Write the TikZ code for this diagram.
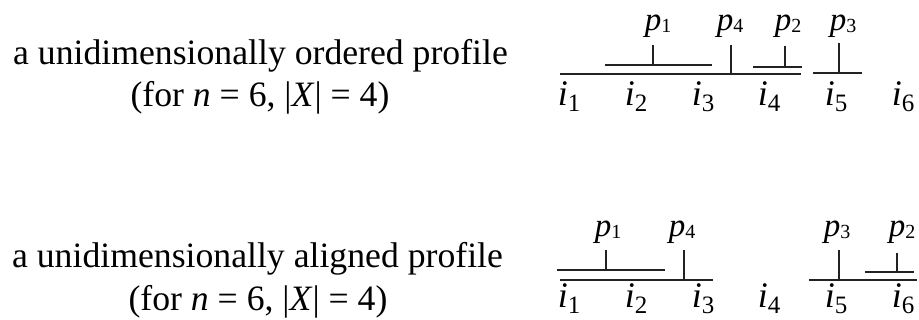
\documentclass[tikz,border=0pt]{standalone}
\usepackage{fontspec}
\setmainfont{Liberation Serif}
\usepackage{graphicx}
\usepackage{tikz}
\definecolor{PRLine}{HTML}{222222}
\newcommand{\plab}[1]{\textit{p}\raisebox{-2pt}{\fontsize{20}{23}\selectfont #1}}
\newcommand{\ilab}[1]{\textit{i}\raisebox{-6pt}{\fontsize{25}{28}\selectfont #1}}

\begin{document}
\begin{tikzpicture}[x=1pt,y=-1pt,
  captext/.style={anchor=base,inner sep=0pt,font=\fontsize{35.7}{42}\selectfont},
  ptext/.style={anchor=base,inner sep=0pt,font=\fontsize{33}{37}\selectfont},
  itext/.style={anchor=base,inner sep=0pt,font=\fontsize{36}{40}\selectfont},
  bar/.style={PRLine,line width=1.2pt}]
\path[use as bounding box] (0,0) rectangle (919,320);
% ordered profile
\node[captext] (ordname) at (260.5,65) {a unidimensionally ordered profile};
\node[captext] (ordsize) at (260,107) {(for \textit{n} = 6, |\textit{X}| = 4)};
\draw[bar] (560,74) -- (801,74);
\draw[bar] (605,65) -- (712,65);
\draw[bar] (653,45) -- (653,65);
\draw[bar] (731,45) -- (731,74);
\draw[bar] (753,67) -- (802,67);
\draw[bar] (785,46) -- (785,67);
\draw[bar] (813,73) -- (862,73);
\draw[bar] (839,43) -- (839,73);
\node[ptext] (ordp1) at (658,31) {\plab{1}};
\node[ptext] (ordp4) at (730,31) {\plab{4}};
\node[ptext] (ordp2) at (788,31) {\plab{2}};
\node[ptext] (ordp3) at (843,31) {\plab{3}};
\node[itext] (ordi1) at (569,106) {\ilab{1}};
\node[itext] (ordi2) at (636,106) {\ilab{2}};
\node[itext] (ordi3) at (703,106) {\ilab{3}};
\node[itext] (ordi4) at (769,106) {\ilab{4}};
\node[itext] (ordi5) at (836,106) {\ilab{5}};
\node[itext] (ordi6) at (903,106) {\ilab{6}};
% aligned profile
\node[captext] (algname) at (257.5,268) {a unidimensionally aligned profile};
\node[captext] (algsize) at (258,311) {(for \textit{n} = 6, |\textit{X}| = 4)};
\draw[bar] (560,280) -- (713,280);
\draw[bar] (557,270) -- (665,270);
\draw[bar] (606,250) -- (606,270);
\draw[bar] (684,250) -- (684,280);
\draw[bar] (809,280) -- (917,280);
\draw[bar] (839,250) -- (839,280);
\draw[bar] (865,272) -- (914,272);
\draw[bar] (897,253) -- (897,272);
\node[ptext] (algp1) at (608,237) {\plab{1}};
\node[ptext] (algp4) at (682,237) {\plab{4}};
\node[ptext] (algp3) at (837,237) {\plab{3}};
\node[ptext] (algp2) at (902,237) {\plab{2}};
\node[itext] (algi1) at (569,308) {\ilab{1}};
\node[itext] (algi2) at (636,308) {\ilab{2}};
\node[itext] (algi3) at (703,308) {\ilab{3}};
\node[itext] (algi4) at (769,308) {\ilab{4}};
\node[itext] (algi5) at (836,308) {\ilab{5}};
\node[itext] (algi6) at (903,308) {\ilab{6}};
\end{tikzpicture}
\end{document}
